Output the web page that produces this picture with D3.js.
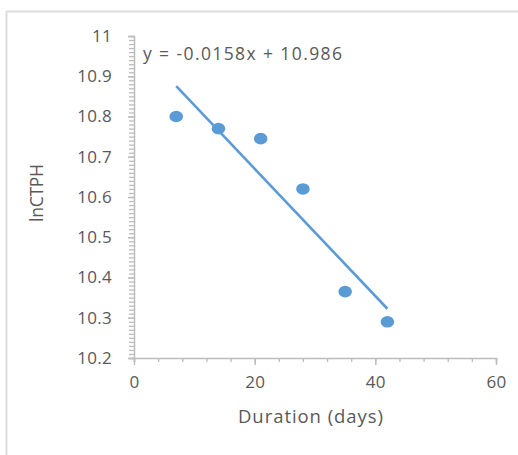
<!DOCTYPE html>
<html><head><meta charset="utf-8">
<script src="https://cdn.jsdelivr.net/npm/d3@7"></script>
<style>body{margin:0;background:#fff;}svg{display:block;}text{font-family:"Open Sans",sans-serif;fill:#595959;}</style>
</head><body>
<svg id="c" width="518" height="455"></svg>
<script>
const days = [7, 14, 21, 28, 35, 42];
const lnCTPH = [10.80, 10.77, 10.745, 10.62, 10.365, 10.29];
const xTickValues = [0, 20, 40, 60];
const yTickValues = [10.2, 10.3, 10.4, 10.5, 10.6, 10.7, 10.8, 10.9, 11];
const yTickLabels = ["10.2", "10.3", "10.4", "10.5", "10.6", "10.7", "10.8", "10.9", "11"];
const slope = -0.0158, intercept = 10.986;
const equationLabel = "y = -0.0158x + 10.986";
const xTitle = "Duration (days)", yTitle = "lnCTPH";

const svg = d3.select("#c");
const blue = "#5b9bd5", axisCol = "#bcbcbc";

// frame
svg.append("line").attr("x1", 6).attr("x2", 518).attr("y1", 11.5).attr("y2", 11.5).attr("stroke", "#dcdcdc").attr("stroke-width", 2);
svg.append("line").attr("x1", 6.5).attr("x2", 6.5).attr("y1", 11).attr("y2", 455).attr("stroke", "#dcdcdc").attr("stroke-width", 2);

const x = d3.scaleLinear().domain([0, 60]).range([134, 496]);
const y = d3.scaleLinear().domain([10.2, 11]).range([358, 36]);

// y axis minor ticks
const yMinor = d3.range(0, 81).map(i => 10.2 + i * 0.01);
const gy = svg.append("g").attr("transform", `translate(${x(0)},0)`);
gy.call(d3.axisLeft(y).tickValues(yMinor).tickSize(5).tickFormat(""));
gy.selectAll("line").attr("stroke", axisCol).attr("stroke-width", 1.3);
gy.select(".domain").attr("stroke", axisCol).attr("stroke-width", 1.5);
const gy2 = svg.append("g").attr("transform", `translate(${x(0)},0)`);
gy2.call(d3.axisLeft(y).tickValues(yTickValues).tickSize(6).tickPadding(16).tickFormat((d, i) => yTickLabels[i]));
gy2.select(".domain").remove();
gy2.selectAll("line").attr("stroke", axisCol).attr("stroke-width", 1.5);
gy2.selectAll("text").style("font-size", "17px").style("font-family", "Open Sans").attr("fill", "#595959").attr("letter-spacing", "0.3");

// x axis
const xMinor = d3.range(0, 61, 4);
const gx = svg.append("g").attr("transform", `translate(0,${y(10.2)})`);
gx.call(d3.axisBottom(x).tickValues(xMinor).tickSize(4).tickFormat(""));
gx.selectAll("line").attr("stroke", axisCol).attr("stroke-width", 1.3);
gx.select(".domain").attr("stroke", axisCol).attr("stroke-width", 1.5);
const gx2 = svg.append("g").attr("transform", `translate(0,${y(10.2)})`);
gx2.call(d3.axisBottom(x).tickValues(xTickValues).tickSize(7).tickPadding(11).tickFormat(d3.format("d")));
gx2.select(".domain").remove();
gx2.selectAll("line").attr("stroke", axisCol).attr("stroke-width", 1.5);
gx2.selectAll("text").style("font-size", "17px").style("font-family", "Open Sans").attr("fill", "#595959").attr("letter-spacing", "0.3");

// trendline
const xs = d3.extent(days);
svg.append("line")
  .attr("x1", x(xs[0])).attr("y1", y(slope * xs[0] + intercept))
  .attr("x2", x(xs[1])).attr("y2", y(slope * xs[1] + intercept))
  .attr("stroke", blue).attr("stroke-width", 2.6);

// points
svg.selectAll("ellipse.pt").data(days).join("ellipse").attr("class", "pt")
  .attr("cx", d => x(d)).attr("cy", (d, i) => y(lnCTPH[i]))
  .attr("rx", 6.8).attr("ry", 5.8).attr("fill", blue);

// equation
svg.append("text").attr("x", 143).attr("y", 60).style("font-size", "17.5px")
  .attr("textLength", 199).attr("lengthAdjust", "spacing").text(equationLabel);

// titles
svg.append("text").attr("x", 238).attr("y", 423).style("font-size", "18.5px")
  .attr("textLength", 145).attr("lengthAdjust", "spacing").text(xTitle);
svg.append("text").attr("transform", "translate(43,222) rotate(-90)").style("font-size", "17.5px")
  .attr("textLength", 58).attr("lengthAdjust", "spacing").text(yTitle);
</script>
</body></html>
